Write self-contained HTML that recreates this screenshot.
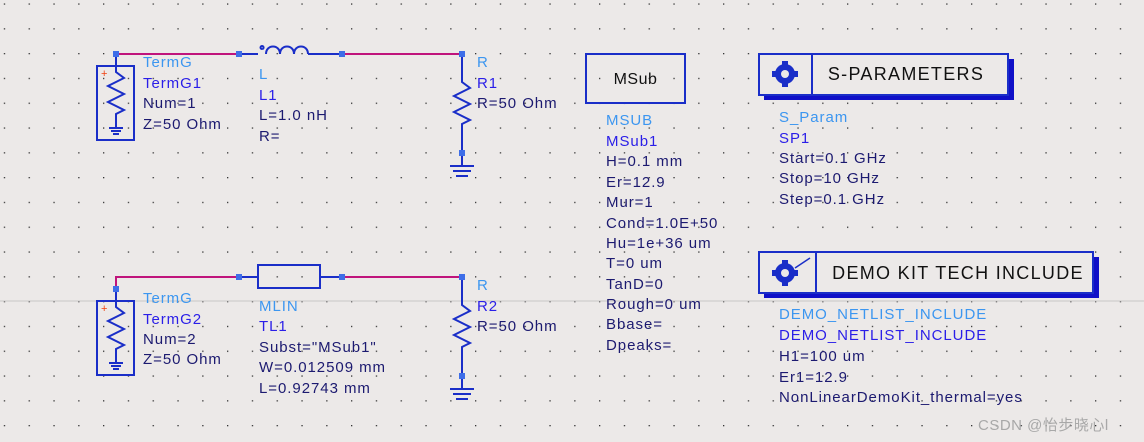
<!DOCTYPE html>
<html><head><meta charset="utf-8"><style>
html,body{margin:0;padding:0;background:#ece9e8;}
svg{display:block}
text{font-family:"Liberation Sans","Noto Sans CJK SC",sans-serif;font-size:15px;letter-spacing:0.95px}
.t{fill:#3c96f0}.n{fill:#2a1ee8}.v{fill:#1c1a70}
</style></head><body>
<svg width="1144" height="442" viewBox="0 0 1144 442" xmlns="http://www.w3.org/2000/svg">
<defs>
<pattern id="g" x="3.8" y="3.4" width="24.8" height="24.8" patternUnits="userSpaceOnUse">
<rect x="0" y="0" width="1.3" height="1.3" fill="#333"/>
</pattern>
</defs>
<rect width="1144" height="442" fill="#ece9e8"/>
<rect width="1144" height="442" fill="url(#g)"/>
<line x1="0" y1="301" x2="1144" y2="301" stroke="#c8c6c6" stroke-width="1"/>

<!-- TOP CIRCUIT -->
<g stroke-width="2" fill="none">
<line x1="116" y1="54" x2="239" y2="54" stroke="#c0147c"/>
<line x1="342" y1="54" x2="462" y2="54" stroke="#c0147c"/>
<path d="M239 54 H258 M262 49 a1.5 1.5 0 1 1 0.1 0 M266 54 c0-10 14-10 14 0 c0-10 14-10 14 0 c0-10 14-10 14 0 M308 54 H342" stroke="#1a2ec8"/>
<rect x="97" y="66" width="37" height="74" stroke="#1a2ec8"/>
<path d="M116 54 V72 l8 6 -16 8 16 8 -16 8 16 8 -8 4 V128 M109 128 H123 M111 131 H121 M113 134 H119" stroke="#1a2ec8"/>
<path d="M462 54 V82 l8 6 -16 8 16 8 -16 8 16 8 -8 4 V153 M450 166 H474 M453 171 H471 M456 176 H468 M462 153 V166" stroke="#1a2ec8"/>
</g>
<g fill="#3e6ee8">
<rect x="113" y="51" width="6" height="6"/><rect x="236" y="51" width="6" height="6"/>
<rect x="339" y="51" width="6" height="6"/><rect x="459" y="51" width="6" height="6"/>
<rect x="459" y="150" width="6" height="6"/>
</g>
<text x="101" y="77" fill="#f04010" style="font-size:11px">+</text>
<text x="143" y="67" class="t">TermG</text>
<text x="143" y="88" class="n">TermG1</text>
<text x="143" y="108" class="v">Num=1</text>
<text x="143" y="129" class="v">Z=50 Ohm</text>
<text x="259" y="79" class="t">L</text>
<text x="259" y="100" class="n">L1</text>
<text x="259" y="120" class="v">L=1.0 nH</text>
<text x="259" y="141" class="v">R=</text>
<text x="477" y="67" class="t">R</text>
<text x="477" y="88" class="n">R1</text>
<text x="477" y="108" class="v">R=50 Ohm</text>

<!-- BOTTOM CIRCUIT -->
<g stroke-width="2" fill="none">
<path d="M116 289 V277 H239" stroke="#c0147c"/>
<line x1="342" y1="277" x2="462" y2="277" stroke="#c0147c"/>
<path d="M239 277 H258 M320 277 H342" stroke="#1a2ec8"/>
<rect x="258" y="265" width="62" height="23" stroke="#1a2ec8"/>
<rect x="97" y="301" width="37" height="74" stroke="#1a2ec8"/>
<path d="M116 289 V307 l8 6 -16 8 16 8 -16 8 16 8 -8 4 V363 M109 363 H123 M111 366 H121 M113 369 H119" stroke="#1a2ec8"/>
<path d="M462 277 V305 l8 6 -16 8 16 8 -16 8 16 8 -8 4 V376 M450 389 H474 M453 394 H471 M456 399 H468 M462 376 V389" stroke="#1a2ec8"/>
</g>
<g fill="#3e6ee8">
<rect x="113" y="286" width="6" height="6"/><rect x="236" y="274" width="6" height="6"/>
<rect x="339" y="274" width="6" height="6"/><rect x="459" y="274" width="6" height="6"/>
<rect x="459" y="373" width="6" height="6"/>
</g>
<text x="101" y="312" fill="#f04010" style="font-size:11px">+</text>
<text x="143" y="303" class="t">TermG</text>
<text x="143" y="324" class="n">TermG2</text>
<text x="143" y="344" class="v">Num=2</text>
<text x="143" y="364" class="v">Z=50 Ohm</text>
<text x="259" y="311" class="t">MLIN</text>
<text x="259" y="331" class="n">TL1</text>
<text x="259" y="352" class="v">Subst="MSub1"</text>
<text x="259" y="372" class="v">W=0.012509 mm</text>
<text x="259" y="393" class="v">L=0.92743 mm</text>
<text x="477" y="290" class="t">R</text>
<text x="477" y="311" class="n">R2</text>
<text x="477" y="331" class="v">R=50 Ohm</text>

<!-- MSUB -->
<rect x="586" y="54" width="99" height="49" fill="none" stroke="#1a2ec8" stroke-width="2"/>
<text x="635.5" y="84" text-anchor="middle" fill="#111" style="font-size:16px;letter-spacing:0.5px">MSub</text>
<text x="606" y="125" class="t">MSUB</text>
<text x="606" y="146" class="n">MSub1</text>
<text x="606" y="166" class="v">H=0.1 mm</text>
<text x="606" y="187" class="v">Er=12.9</text>
<text x="606" y="207" class="v">Mur=1</text>
<text x="606" y="228" class="v">Cond=1.0E+50</text>
<text x="606" y="248" class="v">Hu=1e+36 um</text>
<text x="606" y="268" class="v">T=0 um</text>
<text x="606" y="289" class="v">TanD=0</text>
<text x="606" y="309" class="v">Rough=0 um</text>
<text x="606" y="329" class="v">Bbase=</text>
<text x="606" y="350" class="v">Dpeaks=</text>

<!-- S-PARAMETERS -->
<rect x="764" y="59" width="250" height="41" fill="#1010c8"/>
<rect x="759" y="54" width="249" height="41" fill="#ece9e8" stroke="#1a2ec8" stroke-width="2"/>
<line x1="812" y1="54" x2="812" y2="95" stroke="#1a2ec8" stroke-width="2"/>
<g fill="#1a2ec8"><circle cx="785" cy="74" r="10"/><circle cx="785" cy="74" r="4" fill="#ece9e8"/>
<rect x="782" y="61" width="6" height="26"/><rect x="772" y="71" width="26" height="6"/></g>
<circle cx="785" cy="74" r="4" fill="#ece9e8"/>
<text x="906" y="80" text-anchor="middle" fill="#111" style="font-size:18px;letter-spacing:1.3px">S-PARAMETERS</text>
<text x="779" y="122" class="t">S_Param</text>
<text x="779" y="143" class="n">SP1</text>
<text x="779" y="163" class="v">Start=0.1 GHz</text>
<text x="779" y="183" class="v">Stop=10 GHz</text>
<text x="779" y="204" class="v">Step=0.1 GHz</text>

<!-- DEMO KIT -->
<rect x="764" y="257" width="335" height="41" fill="#1010c8"/>
<rect x="759" y="252" width="334" height="41" fill="#ece9e8" stroke="#1a2ec8" stroke-width="2"/>
<line x1="816" y1="252" x2="816" y2="293" stroke="#1a2ec8" stroke-width="2"/>
<g fill="#1a2ec8"><circle cx="785" cy="273" r="10"/>
<rect x="782" y="260" width="6" height="26"/><rect x="772" y="270" width="26" height="6"/></g>
<circle cx="785" cy="273" r="4" fill="#ece9e8"/>
<line x1="795" y1="268" x2="810" y2="258" stroke="#1a2ec8" stroke-width="1.5"/>
<text x="958" y="279" text-anchor="middle" fill="#111" style="font-size:18px;letter-spacing:1.3px">DEMO KIT TECH INCLUDE</text>
<text x="779" y="319" class="t">DEMO_NETLIST_INCLUDE</text>
<text x="779" y="340" class="n">DEMO_NETLIST_INCLUDE</text>
<text x="779" y="361" class="v">H1=100 um</text>
<text x="779" y="382" class="v">Er1=12.9</text>
<text x="779" y="402" class="v">NonLinearDemoKit_thermal=yes</text>

<text x="978" y="430" fill="#a8a8a8" style="font-size:15px;letter-spacing:0.5px">CSDN @怡步晓心l</text>
</svg>
</body></html>
